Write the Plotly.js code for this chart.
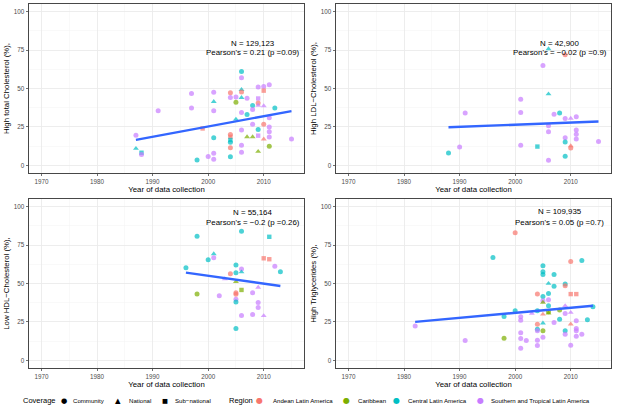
<!DOCTYPE html>
<html><head><meta charset="utf-8">
<script src="https://cdn.plot.ly/plotly-3.0.1.min.js"></script>
<style>html,body{margin:0;padding:0;background:#fff}#chart{width:617px;height:407px}</style>
</head><body><div id="chart"></div>
<script>
// ---------- DATA ----------
const regionKeys = ['A', 'Ca', 'Ce', 'S'];
const regionLabels = ['Andean Latin America', 'Caribbean', 'Central Latin America', 'Southern and Tropical Latin America'];
const regionColors = ['#F8766D', '#7CAE00', '#00BFC4', '#C77CFF'];
const coverageKeys = ['C', 'N', 'Sub'];
const coverageLabels = ['Community', 'National', 'Sub\u2212national'];
const coverageSymbols = ['circle', 'triangle-up', 'square'];
const coverageGlyphs = ['\u25CF', '\u25B2', '\u25A0'];

const xTicks = [1970, 1980, 1990, 2000, 2010];
const yTicks = [0, 25, 50, 75, 100];

// High total cholesterol
const tcYear = [1987,1987,1988,1988,1991,1997,1997,1998,1999,2000,2001,2001,2001,2001,2001,2001,2004,2004,2004,2004,2004,2004,2004,2004,2005,2005,2005,2006,2006,2006,2006,2006,2006,2006,2006,2006,2007,2007,2007,2008,2008,2008,2008,2009,2009,2009,2009,2009,2009,2009,2010,2010,2010,2010,2010,2011,2011,2011,2011,2011,2011,2012,2015];
const tcValue = [19.6,10.9,8.2,7.0,35.5,46.8,37.3,3.5,24.0,5.7,47.5,41.4,35.5,18.0,7.8,3.9,47.3,44.2,20.0,18.5,16.5,15.0,11.5,5.5,44.5,41.0,30.0,61.0,57.0,49.3,47.8,44.0,34.4,23.0,13.0,8.5,43.7,33.0,18.5,39.0,36.4,26.8,18.5,51.0,43.5,40.5,39.0,23.3,19.3,9.0,51.3,48.6,38.7,26.7,17.0,52.5,31.0,25.0,21.8,18.5,12.4,37.3,17.2];
const tcRegion = ['S','Ce','Ce','S','S','S','S','Ce','A','S','S','Ce','S','Ce','S','S','A','S','A','A','Ce','Ce','A','Ce','S','Ca','Ce','Ce','S','Ce','A','Ce','S','S','S','S','S','Ce','Ca','Ce','S','S','Ca','S','S','A','S','Ce','S','Ca','S','A','S','A','A','S','S','S','S','S','Ca','Ce','S'];
const tcCoverage = ['C','N','Sub','C','C','C','C','C','Sub','C','C','N','C','C','C','C','C','C','C','Sub','Sub','C','C','C','C','C','N','C','C','N','C','N','C','C','C','C','C','C','N','C','C','C','N','C','Sub','C','N','C','Sub','N','C','Sub','N','C','N','C','C','C','C','C','C','C','C'];
const tcTrendYear = [1987, 2015];
const tcTrendValue = [16.6, 35.3];
const tcStats = ['N = 129,123', "Pearson's = 0.21 (p =0.09)"];

// High LDL cholesterol
const ldlYear = [1988,1990,1991,2001,2001,2001,2004,2005,2006,2006,2006,2006,2006,2007,2008,2009,2009,2009,2009,2009,2010,2010,2010,2011,2011,2011,2011,2015];
const ldlValue = [8.0,12.0,34.0,43.0,34.4,13.0,12.2,65.0,75.8,46.4,25.7,21.8,3.3,33.3,34.0,72.0,30.5,18.0,15.2,5.9,30.5,12.6,11.3,31.6,23.0,20.3,17.2,15.5];
const ldlRegion = ['Ce','S','S','S','S','S','Ce','S','Ce','Ce','S','S','S','S','Ce','A','S','S','Ce','Ce','S','A','A','S','S','S','S','S'];
const ldlCoverage = ['C','C','C','C','C','C','Sub','C','N','N','C','C','C','C','C','C','C','C','C','C','N','N','C','C','C','C','C','C'];
const ldlTrendYear = [1988, 2015];
const ldlTrendValue = [24.8, 28.5];
const ldlStats = ['N = 42,900', "Pearson's = \u22120.02 (p =0.9)"];

// Low HDL cholesterol
const hdlYear = [1996,1998,1998,2000,2001,2001,2002,2003,2004,2005,2005,2005,2005,2005,2005,2005,2005,2006,2006,2006,2006,2006,2008,2008,2009,2009,2009,2010,2010,2011,2011,2012,2013];
const hdlValue = [60.3,80.8,43.1,65.4,69.3,66.7,42.0,53.0,56.3,62.0,57.0,51.2,44.0,43.0,39.7,38.0,20.7,84.0,59.5,57.5,45.8,29.2,44.0,29.9,47.5,37.7,34.4,66.4,29.0,80.4,65.8,61.2,57.7];
const hdlRegion = ['Ce','Ce','Ca','Ce','Ce','S','S','S','A','Ce','Ce','Ca','A','A','S','Ce','Ce','Ce','S','Ce','Ca','S','S','S','S','S','S','A','S','Ce','A','S','Ce'];
const hdlCoverage = ['C','C','C','C','N','C','C','N','C','C','C','N','C','C','C','C','C','C','C','N','Sub','C','C','C','N','C','C','Sub','N','Sub','Sub','C','C'];
const hdlTrendYear = [1996, 2013];
const hdlTrendValue = [57.1, 48.4];
const hdlStats = ['N = 55,164', "Pearson's = \u22120.2 (p =0.26)"];

// High triglycerides
const tgYear = [1982,1991,1996,1998,1998,2000,2000,2001,2001,2001,2001,2001,2002,2003,2004,2004,2004,2004,2004,2004,2004,2005,2005,2005,2005,2005,2005,2005,2005,2005,2005,2006,2006,2006,2006,2006,2006,2007,2007,2007,2008,2008,2009,2009,2009,2009,2009,2009,2010,2010,2010,2010,2010,2011,2011,2011,2011,2011,2012,2012,2013,2014];
const tgValue = [22.4,12.9,67.0,28.5,14.4,83.0,32.2,28.3,26.1,17.9,14.2,7.8,12.9,30.5,43.1,32.2,23.5,20.3,19.2,13.0,9.6,61.6,57.7,55.8,41.6,38.8,37.7,30.0,24.2,19.2,15.0,50.0,43.5,39.4,35.5,31.6,30.7,55.8,48.2,24.6,32.7,26.8,49.7,48.6,35.5,30.5,19.2,17.0,64.3,43.1,31.1,23.5,9.8,43.1,25.7,20.7,19.2,15.7,65.0,17.0,26.4,34.9];
const tgRegion = ['S','S','Ce','Ce','Ca','A','Ce','S','S','S','S','S','S','S','A','Ce','A','Ce','S','S','S','Ce','Ce','Ce','Ce','S','Ca','A','Ce','Ca','S','Ce','Ce','S','Ce','Ca','Ca','Ce','Ce','S','Ca','Ce','Ce','A','S','S','Ce','S','A','A','S','A','S','A','S','S','S','S','Ce','S','Ce','Ce'];
const tgCoverage = ['C','C','C','C','C','C','C','C','C','C','C','C','C','N','C','C','C','C','C','C','C','C','C','C','C','C','N','N','N','C','C','N','C','C','C','C','N','C','C','C','C','C','C','C','N','C','C','C','C','Sub','N','N','C','Sub','C','C','C','C','C','C','C','C'];
const tgTrendYear = [1982, 2014];
const tgTrendValue = [25.0, 35.5];
const tgStats = ['N = 109,935', "Pearson's = 0.05 (p =0.7)"];

const panels = [
  {year: tcYear, value: tcValue, region: tcRegion, coverage: tcCoverage, ty: tcTrendYear, tv: tcTrendValue, stats: tcStats, title: 'High total Cholesterol (%),', statY: [79.5, 73.5]},
  {year: ldlYear, value: ldlValue, region: ldlRegion, coverage: ldlCoverage, ty: ldlTrendYear, tv: ldlTrendValue, stats: ldlStats, title: 'High LDL\u2212Cholesterol (%),', statY: [79.5, 73.5]},
  {year: hdlYear, value: hdlValue, region: hdlRegion, coverage: hdlCoverage, ty: hdlTrendYear, tv: hdlTrendValue, stats: hdlStats, title: 'Low HDL\u2212Cholesterol (%),', statY: [96.5, 89.5]},
  {year: tgYear, value: tgValue, region: tgRegion, coverage: tgCoverage, ty: tgTrendYear, tv: tgTrendValue, stats: tgStats, title: 'High Triglycerides (%),', statY: [97, 90]}
];

// ---------- LAYOUT ----------
const W = 617, H = 407;
const FONT = 'Liberation Sans, Arial, Helvetica, sans-serif';
const xDomains = [[29 / W, 304 / W], [336 / W, 611 / W], [29 / W, 304 / W], [336 / W, 611 / W]];
const yDomains = [[1 - 173 / H, 1 - 4 / H], [1 - 173 / H, 1 - 4 / H], [1 - 368 / H, 1 - 199 / H], [1 - 368 / H, 1 - 199 / H]];

const traces = [];
const layout = {
  width: W, height: H,
  margin: {l: 0, r: 0, t: 0, b: 0},
  paper_bgcolor: '#fff', plot_bgcolor: '#fff',
  showlegend: false,
  font: {family: FONT, color: '#000'},
  annotations: []
};

const symSize = {circle: 5, 'triangle-up': 5.2, square: 4.4};

panels.forEach((p, i) => {
  const n = i + 1;
  const xa = 'x' + (n === 1 ? '' : n), ya = 'y' + (n === 1 ? '' : n);
  const colors = p.region.map(r => regionColors[regionKeys.indexOf(r)]);
  const symbols = p.coverage.map(c => coverageSymbols[coverageKeys.indexOf(c)]);
  traces.push({
    type: 'scatter', mode: 'markers', x: p.year, y: p.value, xaxis: xa, yaxis: ya,
    marker: {color: colors, symbol: symbols, size: symbols.map(s => symSize[s]), line: {width: 0}},
    hoverinfo: 'x+y'
  });
  traces.push({
    type: 'scatter', mode: 'lines', x: p.ty, y: p.tv, xaxis: xa, yaxis: ya,
    line: {color: '#3366FF', width: 2.4}, hoverinfo: 'skip'
  });
  const common = {
    showline: true, mirror: true, linecolor: '#333333', linewidth: 0.9,
    ticks: 'outside', ticklen: 2.5, tickwidth: 0.7, tickcolor: '#333333',
    tickfont: {size: 6.3, color: '#4D4D4D', family: FONT},
    showgrid: true, gridcolor: '#EBEBEB', gridwidth: 0.9, zeroline: false,
    fixedrange: true
  };
  layout['xaxis' + (n === 1 ? '' : n)] = Object.assign({}, common, {
    domain: xDomains[i], anchor: ya, range: [1967.75, 2017.25],
    tickvals: xTicks, ticktext: xTicks.map(String),
    minor: {dtick: 5, tick0: 1965, showgrid: true, gridcolor: '#F4F4F4', gridwidth: 0.5, ticks: ''},
    title: {text: 'Year of data collection', font: {size: 7.8, color: '#000', family: FONT}, standoff: 2}
  });
  layout['yaxis' + (n === 1 ? '' : n)] = Object.assign({}, common, {
    domain: yDomains[i], anchor: xa, range: [-5, 105],
    tickvals: yTicks, ticktext: yTicks.map(String),
    minor: {dtick: 12.5, tick0: 0, showgrid: true, gridcolor: '#F4F4F4', gridwidth: 0.5, ticks: ''},
    title: {text: p.title, font: {size: 7.8, color: '#000', family: FONT}, standoff: 3}
  });
  p.stats.forEach((s, k) => {
    layout.annotations.push({
      xref: xa, yref: ya, x: 2008, y: p.statY[k], text: s, showarrow: false,
      xanchor: 'center', yanchor: 'middle', font: {size: 7.9, color: '#000', family: FONT}
    });
  });
});

// ---------- LEGEND (text with glyphs) ----------
const legY = 1 - 400.5 / H;
const legTitleFont = {size: 7.5, color: '#000', family: FONT};
const legItemFont = {size: 6.1, color: '#000', family: FONT};
const covGlyphX = [63.5, 117.5, 164.5];
const covTextX = [70.5, 126.5, 172.5];
const regGlyphX = [259, 346.5, 396.5, 480];
const regTextX = [271, 355.5, 405.5, 489];
function legText(x, text, font, anchor, color) {
  layout.annotations.push({xref: 'paper', yref: 'paper', x: x / W, y: legY, text: text, showarrow: false,
    xanchor: anchor, yanchor: 'middle', font: Object.assign({}, font, color ? {color: color} : {})});
}
legText(20.5, 'Coverage', legTitleFont, 'left');
coverageLabels.forEach((lab, k) => {
  legText(covGlyphX[k], coverageGlyphs[k], {size: k === 2 ? 6.3 : 7.2, family: 'DejaVu Sans'}, 'center', '#000');
  legText(covTextX[k], lab, legItemFont, 'left');
});
legText(226.5, 'Region', legTitleFont, 'left');
regionLabels.forEach((lab, k) => {
  legText(regGlyphX[k], '\u25CF', {size: 8, family: 'DejaVu Sans'}, 'center', regionColors[k]);
  legText(regTextX[k], lab, legItemFont, 'left');
});

Plotly.newPlot('chart', traces, layout, {staticPlot: true, displayModeBar: false});
</script>
</body></html>
